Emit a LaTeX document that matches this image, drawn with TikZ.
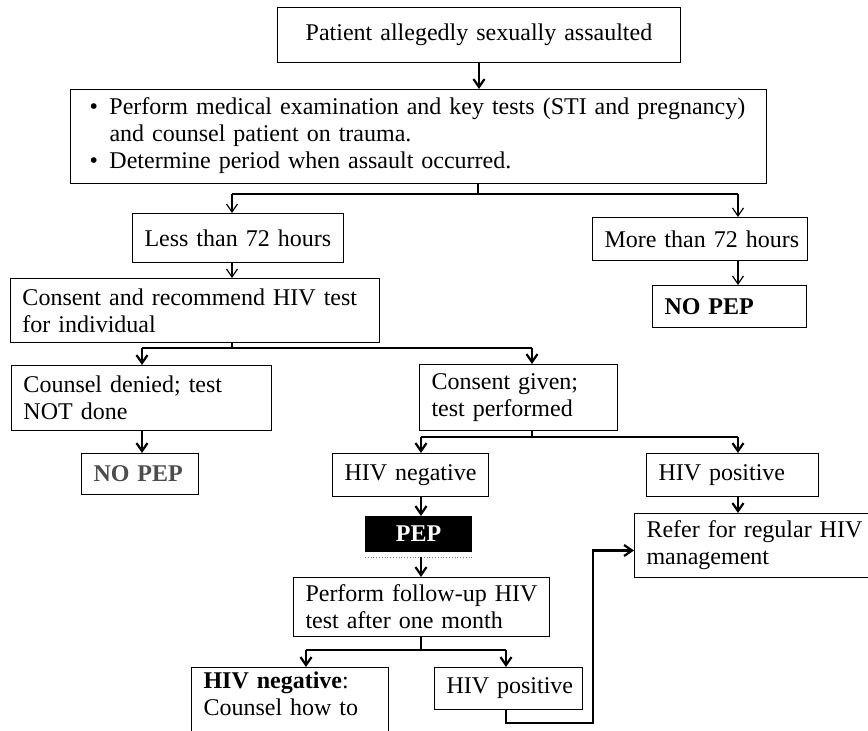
\documentclass[tikz,border=0pt]{standalone}
\usepackage{fontspec}
\setmainfont{Liberation Serif}
\usetikzlibrary{arrows.meta}

\begin{document}
\begin{tikzpicture}[x=0.5pt, y=-0.5pt,
    font=\fontsize{12}{13.5}\selectfont,
    box/.style={draw, line width=0.5pt, anchor=north west, inner xsep=6pt, inner ysep=2pt, align=left},
    link/.style={line width=1.1pt},
    arr/.style={line width=1.1pt, -{Straight Barb[length=4pt,width=5.5pt]}},
    thinarr/.style={line width=0.6pt, -{Straight Barb[length=4pt,width=5.5pt]}}]
  \useasboundingbox (0,0) rectangle (868,730);
  \clip (0,0) rectangle (868,730);

  \node[box, align=center, text width=189.5pt, minimum height=27.5pt] (start) at (277,7) {Patient allegedly sexually assaulted};
  \node[box, text width=336pt, minimum height=47pt] (exam) at (70,89)
    {\begin{tabular}{@{\hspace{3.5pt}}p{10pt}@{}l@{}}
       \textbullet & Perform medical examination and key tests (STI and pregnancy)\\
                   & and counsel patient on trauma.\\
       \textbullet & Determine period when assault occurred.
     \end{tabular}};
  \node[box, text width=93.5pt, minimum height=24.5pt] (less) at (132,213) {\mbox{Less than 72 hours}};
  \node[box, text width=95.5pt, minimum height=21.5pt] (more) at (592,217) {\mbox{More than 72 hours}};
  \node[box, text width=172.5pt, minimum height=32pt] (consent) at (10,278) {Consent and recommend HIV test\\for individual};
  \node[box, text width=65pt, minimum height=21pt] (nopepR) at (652,285) {\textbf{NO PEP}};
  \node[box, text width=118pt, minimum height=32.5pt] (denied) at (11,365) {Counsel denied; test\\NOT done};
  \node[box, text width=87pt, minimum height=33pt] (given) at (419,364) {Consent given;\\test performed};
  \node[box, text width=46.5pt, minimum height=20.5pt] (nopepL) at (81,453) {\mbox{\textbf{\color{black!70}NO PEP}}};
  \node[box, text width=66pt, minimum height=21.5pt] (neg) at (332,453) {\mbox{HIV negative}};
  \node[box, text width=74pt, minimum height=21.5pt] (pos) at (646,453) {\mbox{HIV positive}};
  \node[box, fill=black, text=white, align=center, text width=41pt, minimum height=17.5pt] (pep) at (365,516) {\textbf{PEP}};
  \node[box, text width=116pt, minimum height=29.5pt] (follow) at (293,577) {Perform follow-up HIV\\test after one month};
  \node[box, text width=113pt, minimum height=32pt] (refer) at (634,513) {Refer for regular HIV\\management};
  \node[box, text width=86.5pt, text depth=40pt] (neg2) at (191,667) {\textbf{HIV negative}:\\Counsel how to};
  \node[box, text width=62pt, minimum height=21pt] (pos2) at (434,667) {\mbox{HIV positive}};

  \draw[gray, densely dotted] ([yshift=-2.5pt]pep.south west) -- ([yshift=-2.5pt]pep.south east);

  \coordinate (j1) at (478,194);
  \coordinate (j1l) at (232,194);
  \coordinate (j1r) at (738,194);
  \coordinate (j2) at (232,348);
  \coordinate (j2l) at (142,348);
  \coordinate (j2r) at (532,348);
  \coordinate (j3) at (532,437);
  \coordinate (j3l) at (421,437);
  \coordinate (j3r) at (738,437);
  \coordinate (j4) at (421,650);
  \coordinate (j4l) at (306,650);
  \coordinate (j4r) at (506,650);
  \coordinate (c1) at (593,723);

  \draw[arr] (start.south) -- (start.south |- exam.north);
  \draw[link] (exam.south -| j1) -- (j1);
  \draw[link] (j1l) -- (j1r);
  \draw[thinarr] (j1l) -- (j1l |- less.north);
  \draw[thinarr] (j1r) -- (j1r |- more.north);
  \draw[thinarr] (j1l |- less.south) -- (j1l |- consent.north);
  \draw[thinarr] (j1r |- more.south) -- (j1r |- nopepR.north);

  \draw[link] (consent.south -| j2) -- (j2);
  \draw[link] (j2l) -- (j2r);
  \draw[arr] (j2l) -- (j2l |- denied.north);
  \draw[arr] (j2r) -- (j2r |- given.north);
  \draw[arr] (j2l |- denied.south) -- (j2l |- nopepL.north);

  \draw[link] (given.south -| j3) -- (j3);
  \draw[link] (j3l) -- (j3r);
  \draw[arr] (j3l) -- (j3l |- neg.north);
  \draw[arr] (j3r) -- (j3r |- pos.north);
  \draw[arr] (j3l |- neg.south) -- (j3l |- pep.north);
  \draw[arr] ([yshift=-2.5pt]j3l |- pep.south) -- (j3l |- follow.north);
  \draw[arr] (j3r |- pos.south) -- (j3r |- refer.north);

  \draw[link] (follow.south -| j4) -- (j4);
  \draw[link] (j4l) -- (j4r);
  \draw[arr] (j4l) -- (j4l |- neg2.north);
  \draw[arr] (j4r) -- (j4r |- pos2.north);
  \draw[arr] (j4r |- pos2.south) |- (c1) |- ([yshift=-2.5pt]refer.west);
\end{tikzpicture}
\end{document}
